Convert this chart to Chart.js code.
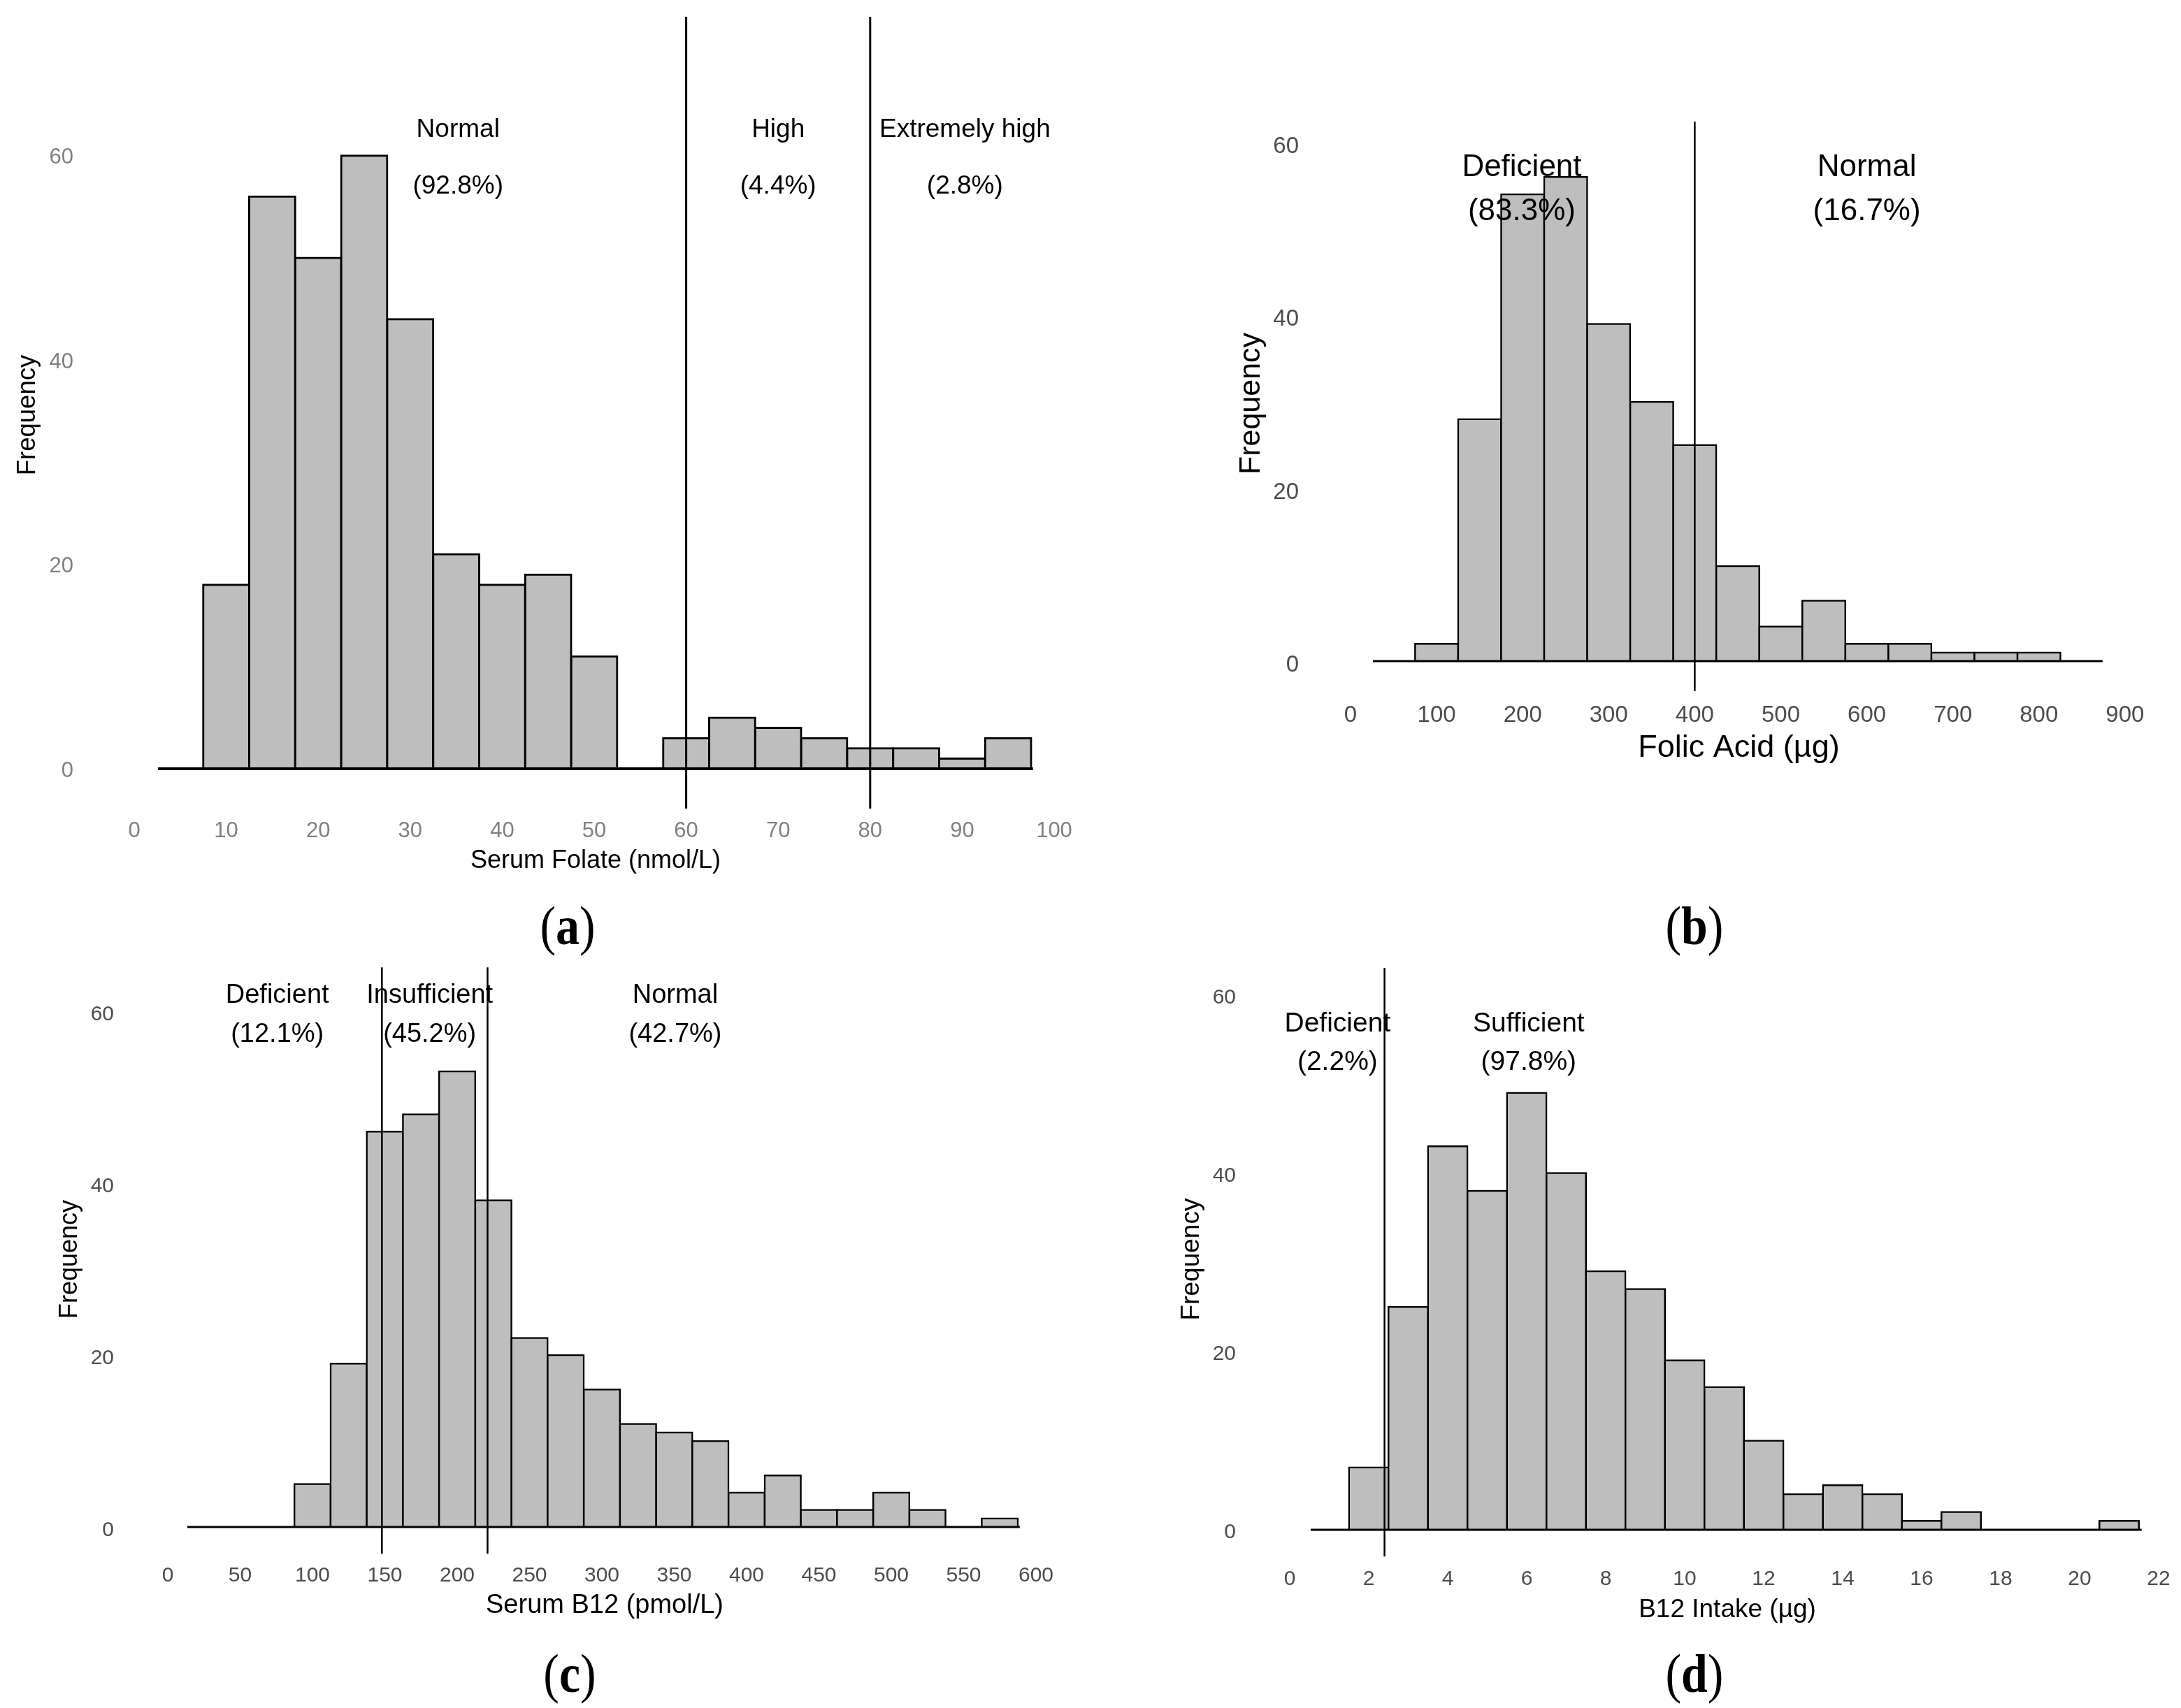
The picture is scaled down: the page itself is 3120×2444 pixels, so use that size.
<!DOCTYPE html>
<html>
<head>
<meta charset="utf-8">
<script src="https://cdn.jsdelivr.net/npm/chart.js@4.4.1/dist/chart.umd.min.js"></script>
<style>
html,body{margin:0;padding:0;background:#fff;}
body{width:3120px;height:2444px;position:relative;overflow:hidden;}
canvas{position:absolute;}
.plabel{position:absolute;font-family:'Liberation Serif','Times New Roman',serif;font-size:78px;color:#000;
  transform:translate(-50%,-50%) scaleX(0.87);line-height:1;white-space:nowrap;}
</style>
</head>
<body>
<canvas id="ca"></canvas>
<canvas id="cb"></canvas>
<canvas id="cc"></canvas>
<canvas id="cd"></canvas>
<div class="plabel" style="left:812px;top:1325px">(<b>a</b>)</div>
<div class="plabel" style="left:2424px;top:1325px">(<b>b</b>)</div>
<div class="plabel" style="left:815px;top:2395px">(<b>c</b>)</div>
<div class="plabel" style="left:2424px;top:2395px">(<b>d</b>)</div>
<script>
// ---------------- DATA ----------------
const yTicksAll = [0, 20, 40, 60];

// (a) Serum folate, bins of 5 nmol/L (centres)
const folateBinCenters = [10, 15, 20, 25, 30, 35, 40, 45, 50, 55, 60, 65, 70, 75, 80, 85, 90, 95];
const folateCounts     = [18, 56, 50, 60, 44, 21, 18, 19, 11, 0, 3, 5, 4, 3, 2, 2, 1, 3];
const folateThresholds = [60, 80];
const folateXTicks     = [0, 10, 20, 30, 40, 50, 60, 70, 80, 90, 100];
const folateBaseline   = [2.6, 97.7];
const folateLineSpan   = [-3.9, 73.6];
const folateRegions    = ['Normal', 'High', 'Extremely high'];
const folatePercents   = ['(92.8%)', '(4.4%)', '(2.8%)'];

// (b) Folic acid intake, bins of 50 µg
const folicBinCenters  = [100, 150, 200, 250, 300, 350, 400, 450, 500, 550, 600, 650, 700, 750, 800];
const folicCounts      = [2, 28, 54, 56, 39, 30, 25, 11, 4, 7, 2, 2, 1, 1, 1];
const folicThresholds  = [400];
const folicXTicks      = [0, 100, 200, 300, 400, 500, 600, 700, 800, 900];
const folicBaseline    = [26, 874];
const folicLineSpan    = [-3.45, 62.4];
const folicRegions     = ['Deficient', 'Normal'];
const folicPercents    = ['(83.3%)', '(16.7%)'];

// (c) Serum B12, bins of 25 pmol/L
const b12BinCenters    = [100, 125, 150, 175, 200, 225, 250, 275, 300, 325, 350, 375, 400, 425, 450, 475, 500, 525, 550, 575];
const b12Counts        = [5, 19, 46, 48, 53, 38, 22, 20, 16, 12, 11, 10, 4, 6, 2, 2, 4, 2, 0, 1];
const b12Thresholds    = [148, 221];
const b12XTicks        = [0, 50, 100, 150, 200, 250, 300, 350, 400, 450, 500, 550, 600];
const b12Baseline      = [13.5, 588.8];
const b12LineSpan      = [-3.1, 65.1];
const b12Regions       = ['Deficient', 'Insufficient', 'Normal'];
const b12Percents      = ['(12.1%)', '(45.2%)', '(42.7%)'];

// (d) B12 intake, bins of 1 µg
const intakeBinCenters = [2, 3, 4, 5, 6, 7, 8, 9, 10, 11, 12, 13, 14, 15, 16, 17, 18, 19, 20, 21];
const intakeCounts     = [7, 25, 43, 38, 49, 40, 29, 27, 19, 16, 10, 4, 5, 4, 1, 2, 0, 0, 0, 1];
const intakeThresholds = [2.4];
const intakeXTicks     = [0, 2, 4, 6, 8, 10, 12, 14, 16, 18, 20, 22];
const intakeBaseline   = [0.53, 21.57];
const intakeLineSpan   = [-3.0, 63.0];
const intakeRegions    = ['Deficient', 'Sufficient'];
const intakePercents   = ['(2.2%)', '(97.8%)'];

// ---------------- LAYOUT / STYLE ----------------
const FAMILY = "'Liberation Sans', Arial, Helvetica, sans-serif";
Chart.defaults.font.family = FAMILY;

const panels = [
  { id:'ca', rect:[0,0,1560,1280], x0:192, xs:13.16, y0:1100, ys:14.62,
    area:{L:160, R:1544, T:22, B:1166},
    centers:folateBinCenters, counts:folateCounts, thresholds:folateThresholds, xTicks:folateXTicks,
    baseline:folateBaseline, span:folateLineSpan, regions:folateRegions, percents:folatePercents,
    regionX:[35.2, 70.0, 90.3], nameY:61.8, pctY:56.3, annotSize:37,
    xTitle:'Serum Folate (nmol/L)', tickSize:31, tickColor:'#808080', yLabelRight:105, xTickY:1189, yLabelOffset:3,
    titleSize:36, xTitleY:1232, yTitleSize:36.5, yTitleX:40, barBW:3, baseBW:4, lineBW:3 },
  { id:'cb', rect:[1560,0,1560,1280], x0:1932, xs:1.231, y0:946, ys:12.37,
    area:{L:1900, R:3075, T:165, B:990},
    centers:folicBinCenters, counts:folicCounts, thresholds:folicThresholds, xTicks:folicXTicks,
    baseline:folicBaseline, span:folicLineSpan, regions:folicRegions, percents:folicPercents,
    regionX:[199, 600], nameY:56.1, pctY:51.0, annotSize:44,
    xTitle:'Folic Acid (\u00b5g)', tickSize:33, tickColor:'#4d4d4d', yLabelRight:1858, xTickY:1024, yLabelOffset:6,
    titleSize:45, xTitleY:1071, yTitleSize:43, yTitleX:1790, barBW:2.5, baseBW:3, lineBW:2.5 },
  { id:'cc', rect:[0,1290,1560,1070], x0:240, xs:2.07, y0:2185, ys:12.3,
    area:{L:200, R:1530, T:1379, B:2225},
    centers:b12BinCenters, counts:b12Counts, thresholds:b12Thresholds, xTicks:b12XTicks,
    baseline:b12Baseline, span:b12LineSpan, regions:b12Regions, percents:b12Percents,
    regionX:[75.7, 181, 350.7], nameY:61.0, pctY:56.45, annotSize:38,
    xTitle:'Serum B12 (pmol/L)', tickSize:30, tickColor:'#4d4d4d', yLabelRight:163, xTickY:2255, yLabelOffset:5,
    titleSize:38, xTitleY:2298, yTitleSize:36, yTitleX:100, barBW:2.5, baseBW:3, lineBW:2.5 },
  { id:'cd', rect:[1560,1290,1560,1070], x0:1845, xs:56.5, y0:2189, ys:12.76,
    area:{L:1836, R:3106, T:1375, B:2229},
    centers:intakeBinCenters, counts:intakeCounts, thresholds:intakeThresholds, xTicks:intakeXTicks,
    baseline:intakeBaseline, span:intakeLineSpan, regions:intakeRegions, percents:intakePercents,
    regionX:[1.21, 6.05], nameY:55.9, pctY:51.6, annotSize:39,
    xTitle:'B12 Intake (\u00b5g)', tickSize:30, tickColor:'#4d4d4d', yLabelRight:1768, xTickY:2260, yLabelOffset:4,
    titleSize:37, xTitleY:2304, yTitleSize:37, yTitleX:1705, barBW:2.5, baseBW:3, lineBW:2.5 }
];

function buildPanel(p) {
  const cv = document.getElementById(p.id);
  const [rl, rt, rw, rh] = p.rect;
  cv.width = rw; cv.height = rh;
  cv.style.left = rl + 'px'; cv.style.top = rt + 'px';
  cv.style.width = rw + 'px'; cv.style.height = rh + 'px';

  const xmin = (p.area.L - p.x0) / p.xs, xmax = (p.area.R - p.x0) / p.xs;
  const ymax = (p.y0 - p.area.T) / p.ys, ymin = (p.y0 - p.area.B) / p.ys;
  const tickLH = p.tickSize * 1.2, titleLH = p.titleSize * 1.2, yTitleLH = p.yTitleSize * 1.2;
  const yAxisW = p.area.L - rl;
  const xAxisH = p.xTitleY + titleLH / 2 - p.area.B;
  const padding = { left: 0, top: p.area.T - rt, right: rl + rw - p.area.R,
                    bottom: rt + rh - (p.area.B + xAxisH) };

  const datasets = [
    { type:'bar', data: p.centers.map((c, i) => ({ x: c, y: p.counts[i] })),
      backgroundColor:'#bebebe', borderColor:'#000', borderWidth:p.barBW, inflateAmount:p.barBW / 2,
      barPercentage:1, categoryPercentage:1, order:2 },
    { type:'line', data: p.baseline.map(v => ({ x: v, y: 0 })),
      borderColor:'#000', borderWidth:p.baseBW, pointRadius:0, fill:false, order:1 }
  ];
  p.thresholds.forEach(t => {
    datasets.push({ type:'line', data: p.span.map(v => ({ x: t, y: v })),
      borderColor:'#000', borderWidth:p.lineBW, pointRadius:0, fill:false, order:0 });
  });

  const annotPlugin = {
    id: 'annot_' + p.id,
    afterDatasetDraw(chart, args) {
      if (args.index !== 0) return;
      const ctx = chart.ctx, xs = chart.scales.x, ys = chart.scales.y;
      ctx.save();
      ctx.fillStyle = '#000';
      ctx.font = p.annotSize + 'px ' + FAMILY;
      ctx.textAlign = 'center';
      ctx.textBaseline = 'alphabetic';
      p.regions.forEach((name, i) => {
        const px = xs.getPixelForValue(p.regionX[i]);
        ctx.fillText(name, px, ys.getPixelForValue(p.nameY));
        ctx.fillText(p.percents[i], px, ys.getPixelForValue(p.pctY));
      });
      ctx.restore();
    }
  };

  new Chart(cv, {
    type: 'bar',
    data: { datasets },
    plugins: [annotPlugin],
    options: {
      responsive: false,
      animation: false,
      layout: { padding },
      plugins: { legend: { display: false }, tooltip: { enabled: false }, title: { display: false } },
      scales: {
        x: {
          type: 'linear', min: xmin, max: xmax, offset: false,
          grid: { display: false, drawTicks: false }, border: { display: false },
          ticks: { color: p.tickColor, font: { size: p.tickSize }, padding: p.xTickY - p.area.B - tickLH / 2,
                   autoSkip: false, maxRotation: 0, minRotation: 0, callback: v => String(v) },
          afterBuildTicks: s => { s.ticks = p.xTicks.map(v => ({ value: v })); },
          afterFit: s => { s.height = xAxisH; s.paddingLeft = 0; s.paddingRight = 0; },
          title: { display: true, text: p.xTitle, color: '#000', font: { size: p.titleSize }, padding: 0 }
        },
        y: {
          type: 'linear', min: ymin, max: ymax,
          grid: { display: false, drawTicks: false }, border: { display: false },
          ticks: { color: p.tickColor, font: { size: p.tickSize }, padding: p.area.L - p.yLabelRight,
                   labelOffset: p.yLabelOffset, callback: v => String(v) },
          afterBuildTicks: s => { s.ticks = yTicksAll.map(v => ({ value: v })); },
          afterFit: s => { s.width = yAxisW; s.paddingTop = 0; s.paddingBottom = 0; },
          title: { display: true, text: 'Frequency', color: '#000', font: { size: p.yTitleSize },
                   padding: { top: p.yTitleX - rl - yTitleLH / 2, bottom: 0 } }
        }
      }
    }
  });
}

panels.forEach(buildPanel);
</script>
</body>
</html>
